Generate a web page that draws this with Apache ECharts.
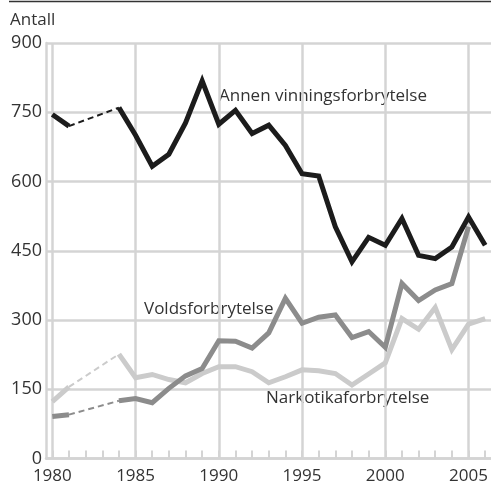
<!DOCTYPE html>
<html>
<head>
<meta charset="utf-8">
<script src="https://cdn.jsdelivr.net/npm/echarts@6/dist/echarts.min.js"></script>
<style>html,body{margin:0;padding:0;background:#fff}#c{width:491px;height:484px}</style>
</head>
<body>
<div id="c"></div>
<script>
var years = [1980,1981,1982,1983,1984,1985,1986,1987,1988,1989,1990,1991,1992,1993,1994,1995,1996,1997,1998,1999,2000,2001,2002,2003,2004,2005,2006];
var annen = [745,720,null,null,760,700,633,659,727,818,724,754,704,722,678,617,612,502,426,479,462,520,440,433,458,523,462];
var volds = [91,95,null,null,125,130,121,152,179,195,255,254,239,272,347,293,306,311,262,275,241,379,342,365,379,502,null];
var narko = [123,155,null,null,226,175,182,171,164,184,199,199,188,164,177,192,190,184,159,183,207,303,280,327,236,291,303];
var yTicks = [0,150,300,450,600,750,900];
var xLabelYears = [1980,1985,1990,1995,2000,2005];
var seriesNames = ['Annen vinningsforbrytelse','Voldsforbrytelse','Narkotikaforbrytelse'];
var yAxisTitle = 'Antall';

var FONT = '"Open Sans", "Noto Sans", sans-serif';
var TXT = '#333333';
var GRID = '#d4d4d4';
var colors = ['#1c1c1c','#8c8c8c','#cbcbcb'];

function pairs(arr){ return years.map(function(y,i){ return [y, arr[i]]; }); }
function gap(arr){ return [[1981, arr[1]],[1984, arr[4]]]; }

var chart = echarts.init(document.getElementById('c'), null, {renderer:'canvas'});
var allSeries = [annen, volds, narko];
var series = [];
[2,1,0].forEach(function(k){
  series.push({
    type:'line', name: seriesNames[k]+' gap', data: gap(allSeries[k]), xAxisIndex:0, yAxisIndex:0,
    symbol:'none', silent:true,
    lineStyle:{color: colors[k], width: 2, type:[6,4]}
  });
  series.push({
    type:'line', name: seriesNames[k], data: pairs(allSeries[k]), xAxisIndex:0, yAxisIndex:0,
    symbol:'none', connectNulls:false, silent:true,
    lineStyle:{color: colors[k], width: 5, join:'miter', cap:'butt'}
  });
});

chart.setOption({
  animation:false,
  grid:{left:46, right:0, top:43, bottom:25.5, containLabel:false, outerBoundsMode:'none'},
  xAxis:[{
    type:'value', min:1979.62, max:2006.35, position:'bottom',
    axisLine:{show:true, lineStyle:{color:GRID, width:2.5}},
    axisTick:{show:false, customValues: xLabelYears},
    axisLabel:{show:true, customValues: xLabelYears, color:TXT, fontSize:17, fontFamily:FONT, margin:9, formatter:function(v){return String(v);}},
    splitLine:{show:true, lineStyle:{color:GRID, width:2.5}}
  },{
    type:'value', min:1979.62, max:2006.35, position:'bottom',
    axisLine:{show:false},
    axisTick:{show:true, inside:true, length:8, customValues: years, lineStyle:{color:GRID, width:2}},
    axisLabel:{show:false},
    splitLine:{show:false}
  }],
  yAxis:[{
    type:'value', min:0, max:900, interval:150,
    axisLine:{show:true, lineStyle:{color:GRID, width:2.5}},
    axisTick:{show:false},
    axisLabel:{color:TXT, fontSize:18, fontFamily:FONT, margin:4},
    splitLine:{show:true, lineStyle:{color:GRID, width:2.5}}
  }],
  graphic:[
    {type:'line', shape:{x1:9, y1:1.5, x2:491, y2:1.5}, style:{stroke:'#333', lineWidth:1.5}},
    {type:'text', left:10, top:12, style:{text:yAxisTitle, fill:TXT, font:'17px '+FONT}},
    {type:'text', left:219, top:88, style:{text:seriesNames[0], fill:TXT, font:'17px '+FONT}},
    {type:'text', left:144, top:301, style:{text:seriesNames[1], fill:TXT, font:'17px '+FONT}},
    {type:'text', left:266, top:390, style:{text:seriesNames[2], fill:TXT, font:'17px '+FONT}}
  ],
  series: series
});
</script>
</body>
</html>
